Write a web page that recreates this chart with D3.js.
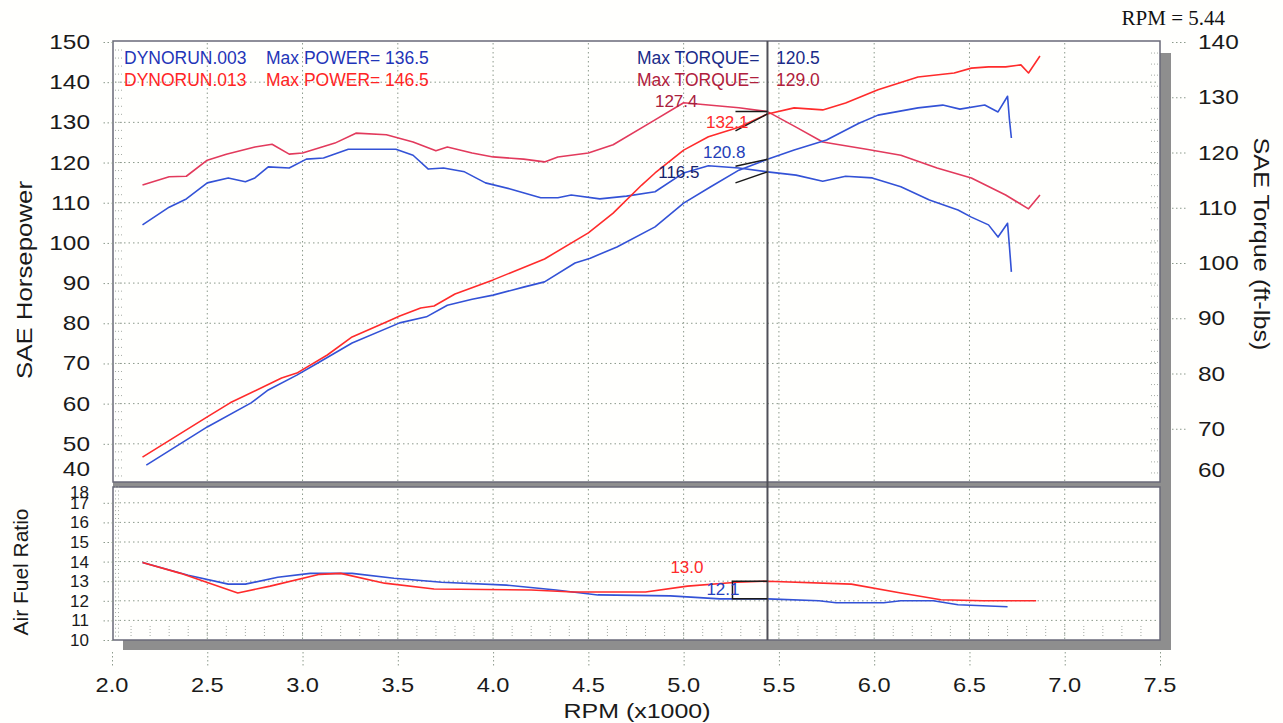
<!DOCTYPE html>
<html>
<head>
<meta charset="utf-8">
<script src="https://cdn.jsdelivr.net/npm/d3@7"></script>
<style>
  body { margin: 0; background: #fffffd; }
  text { font-family: "Liberation Sans", Arial, sans-serif; }
</style>
</head>
<body>
<svg id="chart"></svg>
<script>
// ---- data ----
const hpTicks = [150, 140, 130, 120, 110, 100, 90, 80, 70, 60, 50, 40];
const tqTicks = [140, 130, 120, 110, 100, 90, 80, 70, 60];
const afrTicks = [18, 17, 16, 15, 14, 13, 12, 11, 10];
const rpmTicks = [2.0, 2.5, 3.0, 3.5, 4.0, 4.5, 5.0, 5.5, 6.0, 6.5, 7.0, 7.5];

const cursorRpm = 5.44;

// run .003 (blue)
const bluePowerRpm = [2.18, 2.50, 2.73, 2.82, 2.97, 3.08, 3.26, 3.51, 3.65, 3.76, 3.89, 4.00, 4.16, 4.27, 4.43, 4.51, 4.65, 4.85, 5.00, 5.14, 5.29, 5.44, 5.58, 5.75, 5.92, 6.02, 6.23, 6.36, 6.45, 6.58, 6.65, 6.70, 6.71, 6.72];
const bluePowerHp  = [44.7, 54.2, 60.2, 63.4, 67.1, 70.1, 75.1, 80.1, 81.6, 84.5, 86.0, 87.0, 89.0, 90.3, 95.0, 96.2, 99.0, 104.0, 109.9, 113.9, 118.1, 120.8, 123.1, 125.6, 129.8, 131.8, 133.6, 134.3, 133.3, 134.3, 132.6, 136.5, 130.6, 126.1];

const blueTorqueRpm = [2.16, 2.30, 2.39, 2.50, 2.61, 2.70, 2.75, 2.82, 2.93, 3.02, 3.11, 3.24, 3.49, 3.58, 3.66, 3.74, 3.85, 3.96, 4.09, 4.25, 4.34, 4.41, 4.56, 4.70, 4.85, 5.00, 5.13, 5.29, 5.44, 5.59, 5.73, 5.85, 5.99, 6.14, 6.29, 6.44, 6.51, 6.60, 6.65, 6.70, 6.71, 6.72];
const blueTorqueFt  = [106.9, 110.1, 111.6, 114.5, 115.4, 114.7, 115.4, 117.4, 117.2, 118.8, 119.0, 120.6, 120.6, 119.5, 117.0, 117.2, 116.5, 114.5, 113.4, 111.8, 111.8, 112.3, 111.6, 112.1, 112.9, 116.3, 117.6, 117.2, 116.5, 115.9, 114.8, 115.7, 115.4, 113.8, 111.4, 109.6, 108.3, 106.9, 104.7, 107.2, 102.9, 98.4];

const blueAfrRpm = [2.16, 2.40, 2.61, 2.70, 2.87, 3.04, 3.26, 3.48, 3.73, 4.07, 4.33, 4.55, 4.93, 5.19, 5.44, 5.71, 5.80, 6.05, 6.14, 6.31, 6.44, 6.70];
const blueAfr    = [13.95, 13.3, 12.85, 12.85, 13.2, 13.4, 13.4, 13.15, 12.95, 12.8, 12.55, 12.3, 12.25, 12.1, 12.1, 12.0, 11.9, 11.9, 12.0, 12.0, 11.8, 11.7];

// run .013 (red)
const redPowerRpm = [2.16, 2.50, 2.62, 2.79, 2.89, 2.97, 3.13, 3.26, 3.44, 3.51, 3.62, 3.69, 3.80, 4.00, 4.27, 4.50, 4.63, 4.78, 4.85, 5.00, 5.13, 5.29, 5.44, 5.58, 5.73, 5.85, 6.02, 6.23, 6.42, 6.51, 6.60, 6.69, 6.77, 6.81, 6.87];
const redPowerHp  = [46.7, 56.7, 60.2, 64.1, 66.4, 67.6, 72.1, 76.6, 80.3, 81.8, 83.8, 84.3, 87.3, 90.8, 96.0, 102.5, 107.4, 114.4, 117.4, 123.1, 126.4, 128.8, 132.1, 133.6, 133.1, 134.8, 138.1, 141.3, 142.3, 143.5, 143.8, 143.8, 144.3, 142.3, 146.5];

const redTorqueRpm = [2.16, 2.30, 2.39, 2.50, 2.60, 2.75, 2.84, 2.93, 3.00, 3.17, 3.28, 3.44, 3.58, 3.70, 3.76, 3.89, 4.00, 4.16, 4.27, 4.34, 4.50, 4.63, 4.83, 5.00, 5.13, 5.29, 5.44, 5.59, 5.73, 5.96, 6.14, 6.33, 6.51, 6.69, 6.81, 6.87];
const redTorqueFt  = [114.1, 115.6, 115.7, 118.6, 119.7, 121.0, 121.5, 119.7, 119.9, 121.7, 123.5, 123.2, 121.9, 120.3, 121.0, 119.9, 119.2, 118.8, 118.3, 119.2, 119.9, 121.4, 125.5, 129.0, 128.6, 128.1, 127.4, 124.6, 121.9, 120.6, 119.5, 117.2, 115.4, 112.3, 109.8, 112.3];

const redAfrRpm = [2.16, 2.36, 2.66, 2.83, 3.09, 3.20, 3.43, 3.69, 4.20, 4.42, 4.80, 5.02, 5.28, 5.44, 5.88, 6.14, 6.35, 6.57, 6.85];
const redAfr    = [13.95, 13.4, 12.4, 12.75, 13.35, 13.4, 12.9, 12.6, 12.55, 12.45, 12.45, 12.75, 12.95, 13.0, 12.85, 12.4, 12.05, 12.0, 12.0];

const legendRuns = ["DYNORUN.003", "DYNORUN.013"];
const maxPower = [136.5, 146.5];
const maxTorque = [120.5, 129.0];
const cursorHp = [120.8, 132.1];
const cursorTq = [116.5, 127.4];
const cursorAfr = [12.1, 13.0];

// ---- layout ----
const width = 1283;
const height = 723;
const left = 113, right = 1160;
const upTop = 41, upBottom = 482;
const lowTop = 486, lowBottom = 640;

const colBlue = "#3352d6";
const colRed = "#ff2b2b";
const colRedTq = "#e23a5c";
const gridCol = "#8c9a8c";

const svg = d3.select("#chart")
  .attr("width", width)
  .attr("height", height)
  .style("background", "#fffffd");

const x = d3.scaleLinear().domain([2, 7.5]).range([112, 1160]);
const yHp = d3.scaleLinear().domain([40, 150]).range([484, 42]);
const yTq = d3.scaleLinear().domain([60, 140]).range([484, 42]);
const yAfr = d3.scaleLinear().domain([10, 18]).range([640, 483.2]);

const zip = (a, b) => a.map((v, i) => [v, b[i]]);

// ---- shadows ----
svg.append("rect").attr("x", right).attr("y", 53).attr("width", 11).attr("height", 434).attr("fill", "#8e8e8e");
svg.append("rect").attr("x", left).attr("y", upBottom).attr("width", right + 11 - left).attr("height", 5).attr("fill", "#8e8e8e");
svg.append("rect").attr("x", right).attr("y", lowTop).attr("width", 11).attr("height", 164).attr("fill", "#8e8e8e");
svg.append("rect").attr("x", 123).attr("y", lowBottom).attr("width", right + 11 - 123).attr("height", 10).attr("fill", "#8e8e8e");

// ---- panel backgrounds ----
svg.append("rect").attr("x", left).attr("y", upTop).attr("width", right - left).attr("height", upBottom - upTop)
  .attr("fill", "#fffffd").attr("stroke", "#6a6a78").attr("stroke-width", 1.5);
svg.append("rect").attr("x", left).attr("y", lowTop + 1).attr("width", right - left).attr("height", lowBottom - lowTop - 1)
  .attr("fill", "#fffffd").attr("stroke", "#6a6a78").attr("stroke-width", 1.5);

// ---- gridlines ----
const grid = svg.append("g").attr("stroke", gridCol).attr("stroke-width", 1).attr("stroke-dasharray", "1.5,3");
grid.selectAll(".hg").data(hpTicks.filter(d => d > 40 && d < 150)).enter().append("line")
  .attr("x1", left + 2).attr("x2", right - 2)
  .attr("y1", d => yHp(d)).attr("y2", d => yHp(d));
grid.selectAll(".ag").data(afrTicks.filter(d => d > 10 && d < 18)).enter().append("line")
  .attr("x1", left + 2).attr("x2", right - 2)
  .attr("y1", d => yAfr(d)).attr("y2", d => yAfr(d));
const vTicks = rpmTicks.filter(d => d > 2 && d < 7.5);
grid.selectAll(".vg").data(vTicks).enter().append("line")
  .attr("x1", d => x(d)).attr("x2", d => x(d))
  .attr("y1", upTop + 2).attr("y2", upBottom - 1);
grid.selectAll(".vg2").data(vTicks).enter().append("line")
  .attr("x1", d => x(d)).attr("x2", d => x(d))
  .attr("y1", lowTop + 3).attr("y2", lowBottom - 1);

// minor ticks inside the frames
const minor = svg.append("g").attr("stroke", "#a4aaa4").attr("stroke-width", 1).attr("stroke-dasharray", "1,2");
minor.selectAll(".mh").data(d3.range(42, 150, 2)).enter().append("line")
  .attr("x1", left + 2).attr("x2", left + 9)
  .attr("y1", d => yHp(d)).attr("y2", d => yHp(d));
minor.selectAll(".mt").data(d3.range(62, 140, 2)).enter().append("line")
  .attr("x1", right - 9).attr("x2", right - 2)
  .attr("y1", d => yTq(d)).attr("y2", d => yTq(d));
minor.selectAll(".mr").data(d3.range(2.1, 7.45, 0.1)).enter().append("line")
  .attr("x1", d => x(d)).attr("x2", d => x(d))
  .attr("y1", lowBottom - 14).attr("y2", lowBottom - 3);
minor.selectAll(".ma").data(d3.range(10.2, 18, 0.2)).enter().append("line")
  .attr("x1", left + 2).attr("x2", left + 7)
  .attr("y1", d => yAfr(d)).attr("y2", d => yAfr(d));

// ---- axes ----
function styleAxis(g) {
  g.select(".domain").remove();
  g.selectAll(".tick line").attr("stroke", gridCol).attr("stroke-dasharray", "1.5,2.5");
}

svg.append("g")
  .attr("transform", `translate(${left},0)`)
  .call(d3.axisLeft(yHp).tickValues(hpTicks.filter(d => d > 40)).tickSize(12).tickFormat(""))
  .call(styleAxis);
svg.append("g").selectAll("text").data(hpTicks).enter().append("text")
  .attr("transform", d => `translate(90,${d === 40 ? 476 : yHp(d) + 7}) scale(1.22,1)`)
  .attr("text-anchor", "end").attr("fill", "#1a1a1a").style("font-size", "20px")
  .text(d => d);

svg.append("g")
  .attr("transform", `translate(${right + 12},0)`)
  .call(d3.axisRight(yTq).tickValues(tqTicks.filter(d => d > 60)).tickSize(14).tickFormat(""))
  .call(styleAxis);
svg.append("g").selectAll("text").data(tqTicks).enter().append("text")
  .attr("transform", d => `translate(1198,${d === 60 ? 477 : yTq(d) + 7}) scale(1.22,1)`)
  .attr("text-anchor", "start").attr("fill", "#1a1a1a").style("font-size", "20px")
  .text(d => d);

svg.append("g")
  .attr("transform", `translate(${left},0)`)
  .call(d3.axisLeft(yAfr).tickValues(afrTicks.filter(d => d < 18)).tickSize(12).tickFormat(""))
  .call(styleAxis);
svg.append("g").selectAll("text").data(afrTicks).enter().append("text")
  .attr("x", 89)
  .attr("y", d => d === 18 ? 498 : yAfr(d) + 6)
  .attr("text-anchor", "end").attr("fill", "#1a1a1a").style("font-size", "17px")
  .text(d => d);

svg.append("g")
  .attr("transform", `translate(0,${lowBottom + 12})`)
  .call(d3.axisBottom(x).tickValues(rpmTicks).tickSize(14).tickFormat(""))
  .call(styleAxis);
svg.append("g").selectAll("text").data(rpmTicks).enter().append("text")
  .attr("transform", d => `translate(${x(d)},692) scale(1.18,1)`)
  .attr("text-anchor", "middle").attr("fill", "#1a1a1a").style("font-size", "20px")
  .text(d => d.toFixed(1));

// axis titles
svg.append("text").attr("transform", "translate(32,280) rotate(-90)")
  .attr("text-anchor", "middle").attr("fill", "#1a1a1a").style("font-size", "22px")
  .attr("textLength", 198).attr("lengthAdjust", "spacingAndGlyphs")
  .text("SAE Horsepower");
svg.append("text").attr("transform", "translate(1254,244) rotate(90)")
  .attr("text-anchor", "middle").attr("fill", "#1a1a1a").style("font-size", "22px")
  .attr("textLength", 213).attr("lengthAdjust", "spacingAndGlyphs")
  .text("SAE Torque (ft-lbs)");
svg.append("text").attr("transform", "translate(28,572) rotate(-90)")
  .attr("text-anchor", "middle").attr("fill", "#1a1a1a").style("font-size", "20px")
  .attr("textLength", 127).attr("lengthAdjust", "spacingAndGlyphs")
  .text("Air Fuel Ratio");
svg.append("text").attr("x", 637).attr("y", 718)
  .attr("text-anchor", "middle").attr("fill", "#1a1a1a").style("font-size", "21px")
  .attr("textLength", 147).attr("lengthAdjust", "spacingAndGlyphs")
  .text("RPM (x1000)");

svg.append("text").attr("x", 1225).attr("y", 25).attr("text-anchor", "end")
  .attr("fill", "#111").style("font-family", "'Liberation Serif', 'Times New Roman', serif").style("font-size", "21px")
  .text("RPM = " + cursorRpm.toFixed(2));

// ---- curves ----
const lineHp = d3.line().x(d => x(d[0])).y(d => yHp(d[1]));
const lineTq = d3.line().x(d => x(d[0])).y(d => yTq(d[1]));
const lineAfr = d3.line().x(d => x(d[0])).y(d => yAfr(d[1]));

const curves = [
  { pts: zip(blueTorqueRpm, blueTorqueFt), gen: lineTq, col: colBlue },
  { pts: zip(redTorqueRpm, redTorqueFt), gen: lineTq, col: colRedTq },
  { pts: zip(bluePowerRpm, bluePowerHp), gen: lineHp, col: colBlue },
  { pts: zip(redPowerRpm, redPowerHp), gen: lineHp, col: colRed },
  { pts: zip(blueAfrRpm, blueAfr), gen: lineAfr, col: colBlue },
  { pts: zip(redAfrRpm, redAfr), gen: lineAfr, col: colRed }
];
svg.append("g").selectAll("path").data(curves).enter().append("path")
  .attr("d", c => c.gen(c.pts))
  .attr("fill", "none")
  .attr("stroke", c => c.col)
  .attr("stroke-width", 1.6)
  .attr("stroke-linejoin", "round");

// ---- cursor ----
const xc = x(cursorRpm);
svg.append("line").attr("x1", xc).attr("x2", xc).attr("y1", upTop).attr("y2", lowBottom)
  .attr("stroke", "#505058").attr("stroke-width", 2);

// leader lines + readouts at the cursor
const readouts = [
  { v: cursorTq[1], y: yTq(cursorTq[1]), dy: 0,  col: "#a8203e", lx: -70, ly: -5 },
  { v: cursorHp[1], y: yHp(cursorHp[1]), dy: 17, col: colRed,    lx: -19, ly: 14 },
  { v: cursorHp[0], y: yHp(cursorHp[0]), dy: 7,  col: "#2440b8", lx: -22, ly: -1 },
  { v: cursorTq[0], y: yTq(cursorTq[0]), dy: 11, col: "#16226a", lx: -68, ly: 6 }
];
const ro = svg.append("g");
ro.selectAll("line").data(readouts).enter().append("line")
  .attr("x1", xc - 32).attr("y1", d => d.y + d.dy)
  .attr("x2", xc).attr("y2", d => d.y)
  .attr("stroke", "#1a1a1a").attr("stroke-width", 1.5);
ro.selectAll("text").data(readouts).enter().append("text")
  .attr("x", d => xc + d.lx).attr("y", d => d.y + d.ly)
  .attr("text-anchor", "end").attr("fill", d => d.col).style("font-size", "17px")
  .text(d => d.v.toFixed(1));

// AFR bracket
const ya = yAfr(cursorAfr[1]), yb = yAfr(cursorAfr[0]);
svg.append("path")
  .attr("d", `M${xc},${ya}H${xc - 35}V${yb}H${xc}`)
  .attr("fill", "none").attr("stroke", "#1a1a1a").attr("stroke-width", 1.5);
svg.append("text").attr("x", xc - 64).attr("y", ya - 8).attr("text-anchor", "end")
  .attr("fill", colRed).style("font-size", "17px").text(cursorAfr[1].toFixed(1));
svg.append("text").attr("x", xc - 28).attr("y", yb - 4).attr("text-anchor", "end")
  .attr("fill", "#2440c0").style("font-size", "17px").text(cursorAfr[0].toFixed(1));

// ---- legend ----
const legendCols = [["#1f35b8", "#1a2a88"], ["#ff2424", "#b0203c"]];
const leg = svg.append("g").style("font-size", "17.5px");
legendRuns.forEach((name, i) => {
  const y = 64 + i * 22;
  leg.append("text").attr("x", 124).attr("y", y).attr("fill", legendCols[i][0]).text(name);
  leg.append("text").attr("x", 266).attr("y", y).attr("fill", legendCols[i][0]).text("Max POWER=");
  leg.append("text").attr("x", 385).attr("y", y).attr("fill", legendCols[i][0]).text(maxPower[i].toFixed(1));
  leg.append("text").attr("x", 637).attr("y", y).attr("fill", legendCols[i][1]).text("Max TORQUE=");
  leg.append("text").attr("x", 776).attr("y", y).attr("fill", legendCols[i][1]).text(maxTorque[i].toFixed(1));
});
</script>
</body>
</html>
